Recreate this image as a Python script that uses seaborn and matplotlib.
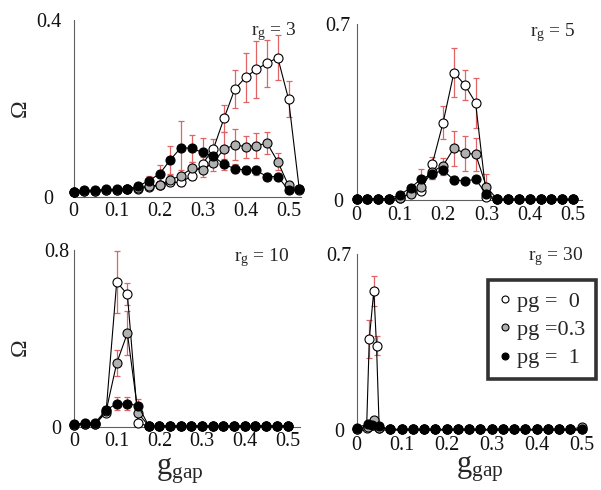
import numpy as np
import pandas as pd
import matplotlib
matplotlib.use("Agg")
import matplotlib.pyplot as plt
from matplotlib.lines import Line2D
import seaborn as sns

sns.set_style("white")
plt.rcParams['font.family'] = ['Liberation Serif', 'DejaVu Serif']
plt.rcParams['mathtext.fontset'] = 'custom'
plt.rcParams['mathtext.rm'] = 'Liberation Serif'
plt.rcParams['mathtext.it'] = 'Liberation Serif:italic'

# ---------------- data ----------------
x21 = [0, 0.025, 0.05, 0.075, 0.1, 0.125, 0.15, 0.175, 0.2, 0.225, 0.25,
       0.275, 0.3, 0.325, 0.35, 0.375, 0.4, 0.425, 0.45, 0.475, 0.5]
x22 = x21 + [0.525]

# r_g = 3
w1 = [0.010, 0.012, 0.012, 0.014, 0.014, 0.016, 0.018, 0.022, 0.025, 0.032, 0.032,
      0.047, 0.074, 0.107, 0.177, 0.243, 0.270, 0.288, 0.302, 0.315, 0.221, 0.017]
g1 = [0.010, 0.013, 0.013, 0.015, 0.015, 0.017, 0.020, 0.023, 0.026, 0.038, 0.047,
      0.064, 0.060, 0.077, 0.107, 0.117, 0.113, 0.115, 0.121, 0.079, 0.025, 0.015]
b1 = [0.010, 0.014, 0.014, 0.016, 0.016, 0.018, 0.023, 0.036, 0.051, 0.083, 0.111,
      0.109, 0.100, 0.091, 0.073, 0.063, 0.060, 0.059, 0.045, 0.045, 0.015, 0.017]
w1e = [0, 0, 0, 0, 0, 0, 0.003, 0.005, 0.006, 0.008, 0.008,
       0.010, 0.015, 0.023, 0.031, 0.043, 0.055, 0.064, 0.053, 0.052, 0.040, 0]
g1e = [0, 0, 0, 0, 0, 0, 0, 0.005, 0.008, 0.010, 0.012,
       0.015, 0.015, 0.020, 0.040, 0.035, 0.025, 0.028, 0.025, 0.020, 0.010, 0]
b1e = [0, 0, 0, 0, 0, 0, 0.005, 0.010, 0.020, 0.031, 0.060,
       0.030, 0.032, 0.020, 0.012, 0.010, 0.010, 0.010, 0.008, 0.008, 0.005, 0]

# r_g = 5
w2 = [0.004, 0.005, 0.005, 0.005, 0.006, 0.027, 0.037, 0.143, 0.308, 0.507, 0.458,
      0.387, 0.013, 0.002, 0.002, 0.002, 0.002, 0.002, 0.002, 0.002, 0.002]
g2 = [0.004, 0.005, 0.005, 0.005, 0.008, 0.024, 0.053, 0.113, 0.137, 0.206, 0.186,
      0.182, 0.053, 0.002, 0.002, 0.002, 0.002, 0.002, 0.002, 0.002, 0.002]
b2 = [0.004, 0.005, 0.005, 0.005, 0.020, 0.049, 0.084, 0.103, 0.118, 0.080, 0.076,
      0.082, 0.024, 0.002, 0.002, 0.002, 0.002, 0.002, 0.002, 0.002, 0.002]
w2e = [0, 0, 0, 0, 0, 0.005, 0.010, 0.030, 0.065, 0.098, 0.060,
       0.100, 0.010, 0, 0, 0, 0, 0, 0, 0, 0]
g2e = [0, 0, 0, 0, 0, 0.005, 0.020, 0.030, 0.030, 0.070, 0.070,
       0.065, 0.050, 0, 0, 0, 0, 0, 0, 0, 0]
b2e = [0, 0, 0, 0, 0, 0.010, 0.040, 0.020, 0.020, 0.015, 0.010,
       0.010, 0.010, 0, 0, 0, 0, 0, 0, 0, 0]

# r_g = 10
w3 = [0.008, 0.010, 0.012, 0.063, 0.655, 0.599, 0.015, 0.002, 0.002, 0.002, 0.002,
      0.002, 0.002, 0.002, 0.002, 0.002, 0.002, 0.002, 0.002, 0.002, 0.002]
g3 = [0.008, 0.010, 0.012, 0.068, 0.287, 0.423, 0.060, 0.003, 0.002, 0.002, 0.002,
      0.002, 0.002, 0.002, 0.002, 0.002, 0.002, 0.002, 0.002, 0.002, 0.002]
b3 = [0.011, 0.015, 0.018, 0.075, 0.103, 0.103, 0.095, 0.003, 0.003, 0.003, 0.003,
      0.003, 0.003, 0.003, 0.003, 0.003, 0.003, 0.003, 0.003, 0.003, 0.003]
w3e = [0, 0, 0, 0.010, 0.140, 0.050, 0.005, 0, 0, 0, 0,
       0, 0, 0, 0, 0, 0, 0, 0, 0, 0]
g3e = [0, 0, 0, 0.010, 0.060, 0.100, 0.030, 0, 0, 0, 0,
       0, 0, 0, 0, 0, 0, 0, 0, 0, 0]
b3e = [0, 0, 0, 0.020, 0.030, 0.030, 0.030, 0, 0, 0, 0,
       0, 0, 0, 0, 0, 0, 0, 0, 0, 0]

# r_g = 30
x4w = [0, 0.022, 0.028, 0.038, 0.044, 0.05, 0.075, 0.1, 0.125, 0.15, 0.175, 0.2,
       0.225, 0.25, 0.275, 0.3, 0.325, 0.35, 0.375, 0.4, 0.425, 0.45, 0.475, 0.5]
w4 = [0.005, 0.008, 0.362, 0.554, 0.336, 0.008, 0.002, 0.002, 0.002, 0.002, 0.002, 0.002,
      0.002, 0.002, 0.002, 0.002, 0.002, 0.002, 0.002, 0.002, 0.002, 0.002, 0.002, 0.002]
w4e = [0, 0, 0.077, 0.060, 0.037, 0, 0, 0, 0, 0, 0, 0,
       0, 0, 0, 0, 0, 0, 0, 0, 0, 0, 0, 0]
x4g = [0, 0.024, 0.038, 0.05, 0.075, 0.1, 0.125, 0.15, 0.175, 0.2, 0.225, 0.25,
       0.275, 0.3, 0.325, 0.35, 0.375, 0.4, 0.425, 0.45, 0.475, 0.5]
g4 = [0.005, 0.010, 0.040, 0.008, 0.002, 0.002, 0.002, 0.002, 0.002, 0.002, 0.002, 0.002,
      0.002, 0.002, 0.002, 0.002, 0.002, 0.002, 0.002, 0.002, 0.002, 0.012]
x4b = [0, 0.024, 0.033, 0.05, 0.075, 0.1, 0.125, 0.15, 0.175, 0.2, 0.225, 0.25,
       0.275, 0.3, 0.325, 0.35, 0.375, 0.4, 0.425, 0.45, 0.475, 0.5]
b4 = [0.008, 0.024, 0.019, 0.014, 0.003, 0.002, 0.002, 0.002, 0.002, 0.002, 0.002, 0.002,
      0.002, 0.002, 0.002, 0.002, 0.002, 0.002, 0.002, 0.002, 0.002, 0.002]

titles = ["3", "5", "10", "30"]
ymax = [0.4, 0.7, 0.8, 0.7]
ystep = [0.05, 0.1, 0.1, 0.1]
xmax = [0.53, 0.52, 0.53, 0.505]
xticks = [0, 0.1, 0.2, 0.3, 0.4, 0.5]
legend_labels = ["pg =  0", "pg =0.3", "pg =  1"]
face_colors = ["white", "#b0b0b0", "black"]

panels = [
    [(x22, w1, w1e), (x22, g1, g1e), (x22, b1, b1e)],
    [(x21, w2, w2e), (x21, g2, g2e), (x21, b2, b2e)],
    [(x21, w3, w3e), (x21, g3, g3e), (x21, b3, b3e)],
    [(x4w, w4, w4e), (x4g, g4, None), (x4b, b4, None)],
]

# ---------------- figure ----------------
W, H = 601, 490
fig = plt.figure(figsize=(W / 100, H / 100), dpi=100)

# axes boxes in pixels: left, top(y of ymax), bottom(y of zero), px per unit x,
# y-label centre offset from spine (px)
boxes = [(73.5, 20, 196.5, 430, 25), (356.5, 24, 200, 433, 18.5),
         (74, 250, 426.5, 427, 17.5), (356.7, 254, 430, 450, 17.5)]

err_color = "#e06464"
for i, (lx, ty, by, pxu, yoff) in enumerate(boxes):
    w = xmax[i] * pxu
    ax = fig.add_axes([lx / W, 1 - by / H, w / W, (by - ty) / H])
    for j, (xs, ys, es) in enumerate(panels[i]):
        if es is not None:
            xe = [a for a, e in zip(xs, es) if e > 0]
            ye = [b for b, e in zip(ys, es) if e > 0]
            ee = [e for e in es if e > 0]
            ax.errorbar(xe, ye, yerr=ee, fmt='none', ecolor=err_color,
                        elinewidth=0.9, capsize=2.2, capthick=0.9,
                        zorder=2 + j, clip_on=False)
    for j, (xs, ys, es) in enumerate(panels[i]):
        df = pd.DataFrame({"x": xs, "y": ys})
        sns.lineplot(data=df, x="x", y="y", ax=ax, color="black", lw=0.8,
                     marker="o", ms=6.5, markerfacecolor=face_colors[j],
                     markeredgecolor="black", markeredgewidth=0.8,
                     clip_on=False, zorder=5 + j, errorbar=None, sort=False)
    ax.set_xlim(0, xmax[i])
    ax.set_ylim(0, ymax[i])
    yt = np.round(np.arange(0, ymax[i] + 1e-9, ystep[i]), 3)
    ax.set_yticks(yt)
    ax.set_yticklabels(["0" if v == 0 else (f"{v:g}" if abs(v - ymax[i]) < 1e-9 else "")
                        for v in yt])
    ax.set_xticks(xticks)
    ax.set_xticklabels(["0", "0.1", "0.2", "0.3", "0.4", "0.5"])
    ax.set_xlabel("")
    ax.set_ylabel("")
    for s in ["top", "right"]:
        ax.spines[s].set_visible(False)
    for s in ["left", "bottom"]:
        ax.spines[s].set_color("#606060")
        ax.spines[s].set_linewidth(0.8)
    ax.tick_params(axis="both", direction="in", length=3, width=0.7,
                   color="#606060", labelsize=14.5)
    ax.tick_params(axis="y", pad=yoff * 0.72, labelcolor="#111111")
    ax.tick_params(axis="x", pad=4, labelcolor="#111111")
    for lab in ax.get_yticklabels():
        lab.set_horizontalalignment("center")
    ax.set_facecolor("none")

# panel titles
title_pos = [(297, 32), (576, 33), (289, 258), (583, 257)]
for t, (px, py) in zip(titles, title_pos):
    fig.text(px / W, 1 - py / H, r"$\mathregular{r_g}$ = " + t, ha="right",
             va="center", fontsize=14)

# y labels
for py in [108, 347]:
    fig.text(20 / W, 1 - py / H, "Ω", rotation=90, ha="center", va="center",
             fontsize=17)

# x labels
for px, py in [(180, 471), (480, 469)]:
    fig.text(px / W, 1 - py / H, r"$\mathregular{g_{gap}}$", ha="center",
             va="center", fontsize=22)

# legend
handles = [Line2D([], [], ls="none", marker="o", ms=5, markerfacecolor=fc,
                  markeredgecolor="black", markeredgewidth=0.8)
           for fc in face_colors]
leg = fig.legend(handles, legend_labels, loc="upper left",
                 bbox_to_anchor=(488 / W, 1 - 280 / H), bbox_transform=fig.transFigure,
                 borderaxespad=0, frameon=True, fancybox=False, fontsize=16,
                 handlelength=0.5, handletextpad=0.3, labelspacing=0.35,
                 borderpad=0.5)
leg.get_frame().set_edgecolor("black")
leg.get_frame().set_linewidth(2.6)

fig.savefig("out.png", dpi=100)
